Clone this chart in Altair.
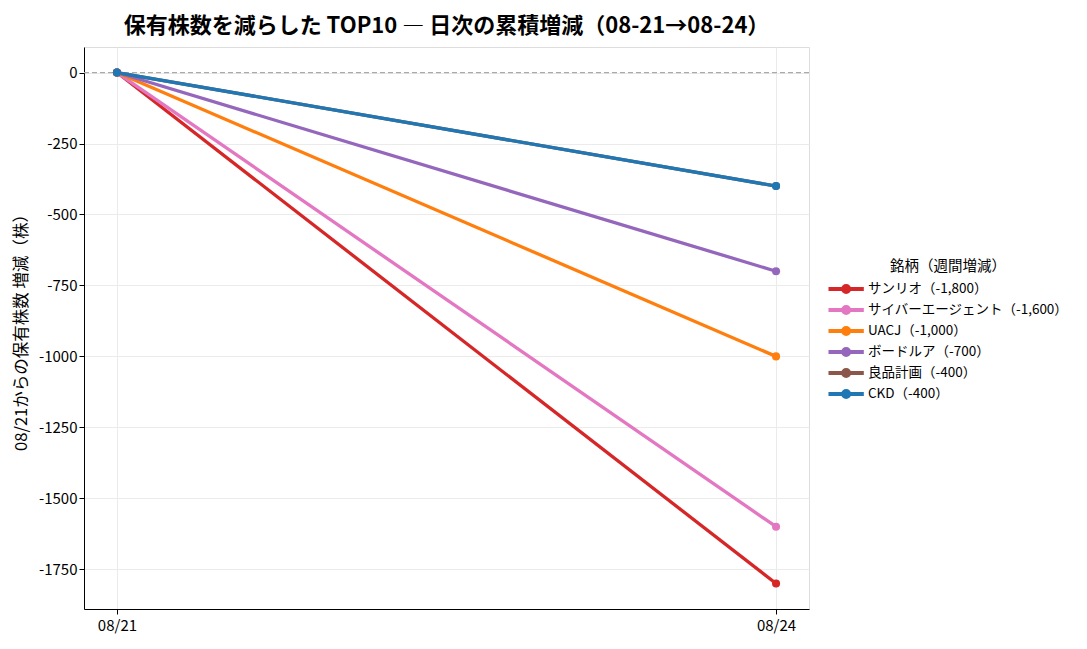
import altair as alt
import pandas as pd

names = ["サンリオ", "サイバーエージェント", "UACJ", "ボードルア", "良品計画", "CKD"]
deltas = [-1800, -1600, -1000, -700, -400, -400]
labels = ["サンリオ（-1,800）", "サイバーエージェント（-1,600）", "UACJ（-1,000）",
          "ボードルア（-700）", "良品計画（-400）", "CKD（-400）"]
colors = ["#d62728", "#e377c2", "#ff7f0e", "#9467bd", "#8c564b", "#1f77b4"]
dates = ["08/21", "08/24"]

rows = []
for i, (lab, d) in enumerate(zip(labels, deltas)):
    rows.append({"銘柄": lab, "x": 0, "date": dates[0], "v": 0, "order": i})
    rows.append({"銘柄": lab, "x": 1, "date": dates[1], "v": d, "order": i})
df = pd.DataFrame(rows)

FONT = "Noto Sans CJK JP"

xscale = alt.Scale(domain=[-0.05, 1.05], nice=False, zero=False)
yscale = alt.Scale(domain=[-1890, 90], nice=False, zero=False)
cscale = alt.Scale(domain=labels, range=colors)

xaxis = alt.Axis(values=[0, 1], labelExpr="datum.value == 0 ? '08/21' : '08/24'",
                 title=None, grid=True, gridColor="#ebebeb", tickSize=5,
                 tickColor="black", domainColor="black", labelFontSize=15,
                 labelColor="black", labelPadding=4, labelFont=FONT)
yaxis = alt.Axis(values=[0, -250, -500, -750, -1000, -1250, -1500, -1750],
                 labelExpr="datum.value + ''", title="08/21からの保有株数 増減（株）",
                 grid=True, gridColor="#ebebeb", tickSize=5, tickColor="black",
                 domainColor="black", labelFontSize=15, labelColor="black",
                 titleFontSize=16.5, titleFontWeight="normal", titleColor="black",
                 labelFont=FONT, titleFont=FONT, titlePadding=9)

sym = ("M -1.0 -0.16 L 4.6 -0.16 L 4.6 0.16 L -1.0 0.16 Z "
       "M 1.14 0 A 0.66 0.66 0 1 1 2.46 0 A 0.66 0.66 0 1 1 1.14 0 Z")

legend = alt.Legend(title="銘柄（週間増減）", orient="none",
                    legendX=744, legendY=213,
                    symbolType=sym, symbolSize=140,
                    symbolStrokeWidth=2.2, symbolOpacity=1,
                    labelFontSize=13.5, titleFontSize=14.5,
                    titleFontWeight="normal", labelFont=FONT,
                    titleFont=FONT, labelColor="black",
                    titleColor="black", rowPadding=4,
                    titleAnchor="middle", titleAlign="center",
                    titlePadding=7, labelOffset=25,
                    labelLimit=300)

base = alt.Chart(df)

zero = alt.Chart(pd.DataFrame({"v": [0]})).mark_rule(
    color="#aaaaaa", strokeDash=[5, 3], strokeWidth=1.2
).encode(y=alt.Y("v:Q", scale=yscale, axis=yaxis))

lines = base.mark_line(strokeWidth=3.3).encode(
    x=alt.X("x:Q", scale=xscale, axis=xaxis),
    y=alt.Y("v:Q", scale=yscale, axis=yaxis),
    color=alt.Color("銘柄:N", scale=cscale, sort=labels, legend=legend),
    detail="銘柄:N",
    order=alt.Order("order:Q"),
)

points = base.mark_point(filled=True, size=65, opacity=1).encode(
    x=alt.X("x:Q", scale=xscale, axis=xaxis),
    y=alt.Y("v:Q", scale=yscale, axis=yaxis),
    color=alt.Color("銘柄:N", scale=cscale, sort=labels, legend=legend),
    order=alt.Order("order:Q"),
)

chart = alt.layer(zero, lines, points).properties(
    width=725, height=562,
    title=alt.Title("保有株数を減らした TOP10 ― 日次の累積増減（08-21→08-24）",
                    fontSize=22, fontWeight="bold", font=FONT, color="black",
                    anchor="middle", offset=9),
    autosize=alt.AutoSizeParams(type="none"),
    padding={"left": 76, "top": 39, "right": 270, "bottom": 32},
).configure_view(stroke="black", strokeWidth=1.2).configure(background="white")

chart.save("out.html", embed_options={"renderer": "svg", "actions": False})
